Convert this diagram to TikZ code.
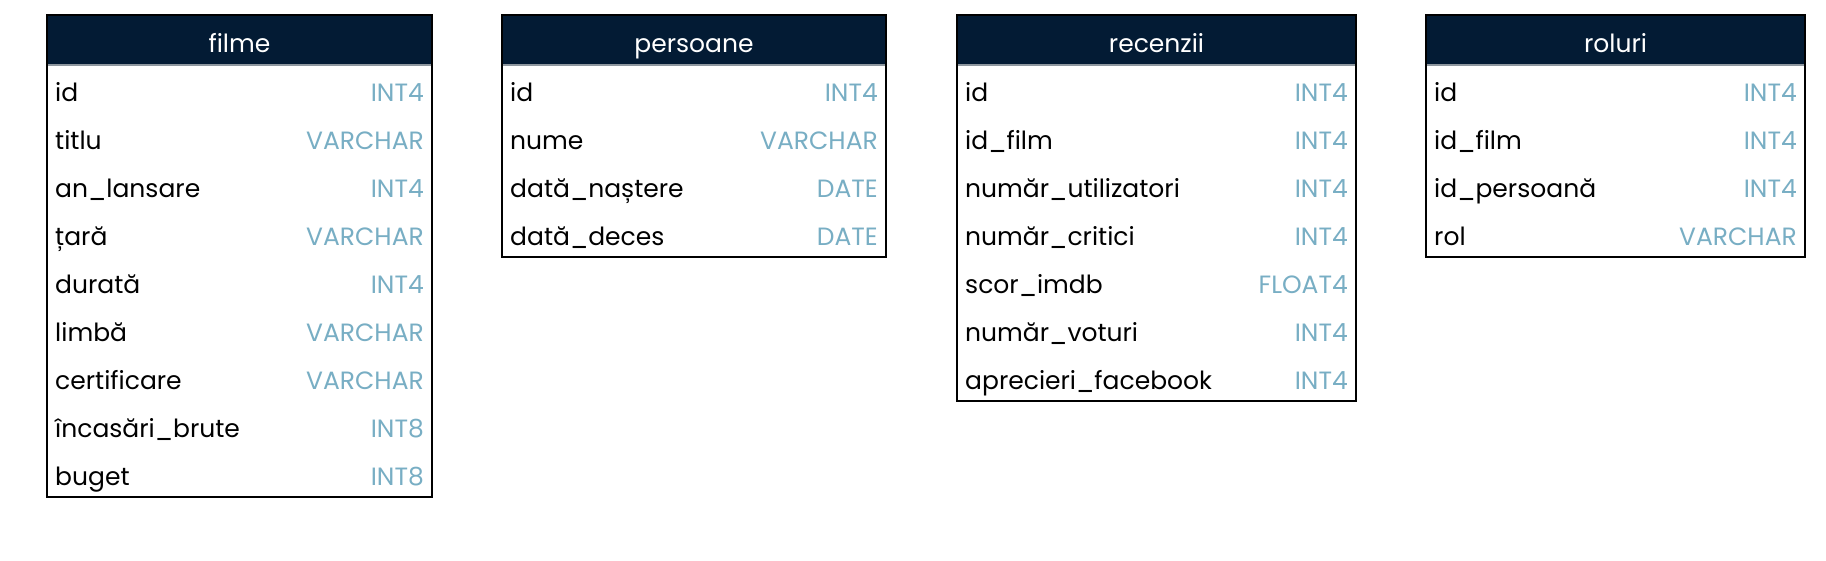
\documentclass[tikz,border=0pt]{standalone}
\usepackage{fontspec}
\setmainfont{Poppins}
\definecolor{hdrnavy}{HTML}{031B34}
\definecolor{typeblue}{HTML}{78AEC4}
\definecolor{sepgray}{HTML}{8E979F}
\tikzset{
  hdrtext/.style={text=white, inner sep=0pt, anchor=base, font=\fontsize{25}{30}\selectfont},
  fieldtext/.style={text=black, inner sep=0pt, anchor=base west, font=\fontsize{25}{30}\selectfont},
  typetext/.style={text=typeblue, inner sep=0pt, anchor=base east, font=\fontsize{25}{30}\selectfont},
  tableborder/.style={draw=black, line width=2.8pt},
  hdrfill/.style={fill=hdrnavy},
  sepline/.style={draw=sepgray, line width=2pt},
}
\newcommand{\mktable}[6]{%
  % #1 name, #2 left x, #3 right x, #4 title, #5 number of rows, #6 rows
  \fill[hdrfill] (#2,15) rectangle (#3,65);
  \draw[sepline] (#2,65) -- (#3,65);
  \node[hdrtext] (#1-title) at ({(#2+#3)/2},52) {#4};
  \foreach \f/\t [count=\i] in {#6} {
    \node[fieldtext] (#1-f\i) at ({#2+8},{53+48*\i}) {\f};
    \node[typetext] (#1-t\i) at ({#3-8},{53+48*\i}) {\t};
  }
  \draw[tableborder] (#2,15) rectangle (#3,{65+48*#5});
}
\begin{document}
\begin{tikzpicture}[x=1pt,y=-1pt]
\useasboundingbox (0,0) rectangle (1826,560);
\fill[white] (0,0) rectangle (1826,560);
\mktable{filme}{47}{432}{filme}{9}{id/INT4, titlu/VARCHAR, an\_lansare/INT4, țară/VARCHAR, durată/INT4, limbă/VARCHAR, certificare/VARCHAR, încasări\_brute/INT8, buget/INT8}
\mktable{persoane}{502}{886}{persoane}{4}{id/INT4, nume/VARCHAR, dată\_naștere/DATE, dată\_deces/DATE}
\mktable{recenzii}{957}{1356}{recenzii}{7}{id/INT4, id\_film/INT4, număr\_utilizatori/INT4, număr\_critici/INT4, scor\_imdb/FLOAT4, număr\_voturi/INT4, aprecieri\_facebook/INT4}
\mktable{roluri}{1426}{1805}{roluri}{4}{id/INT4, id\_film/INT4, id\_persoană/INT4, rol/VARCHAR}
\end{tikzpicture}
\end{document}
